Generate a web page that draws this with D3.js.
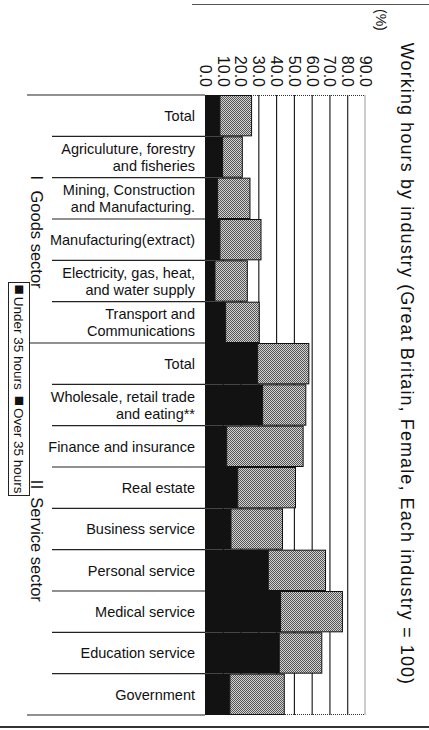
<!DOCTYPE html>
<html>
<head>
<meta charset="utf-8">
<script src="https://cdn.jsdelivr.net/npm/d3@7"></script>
<style>
  body { margin: 0; background: #fff; }
  svg { display: block; font-family: "Liberation Sans", Arial, Helvetica, sans-serif; }
</style>
</head>
<body>
<div id="chart"></div>
<script>
const W = 429;
const H = 730;
const PLOT = { LEFT: 205, RIGHT: 365, TOP: 95, BOTTOM: 715 };

// industries, top to bottom (line breaks as "\n")
const categories = [
  "Total",
  "Agriculuture, forestry\nand fisheries",
  "Mining, Construction\nand Manufacturing.",
  "Manufacturing(extract)",
  "Electricity, gas, heat,\nand water supply",
  "Transport and\nCommunications",
  "Total",
  "Wholesale, retail trade\nand eating**",
  "Finance and insurance",
  "Real estate",
  "Business service",
  "Personal service",
  "Medical service",
  "Education service",
  "Government",
];
const under35 = [8.4, 9.9, 7.1, 8.4, 5.6, 11.6, 29.6, 32.4, 12.2, 18.4, 14.6, 35.6, 42.5, 41.8, 14.0];
const over35 = [17.8, 11.1, 18.2, 23.1, 18.2, 18.9, 28.8, 24.3, 43.0, 32.5, 29.0, 32.2, 34.8, 23.9, 30.6];
const tickValues = [0, 10, 20, 30, 40, 50, 60, 70, 80, 90];
const sectorNames = ["Ⅰ Goods sector", "Ⅱ Service sector"];
const sectorSizes = [6, 9];
const legendItems = ["Under 35 hours", "Over 35 hours"];
const title = "Working hours by industry (Great Britain, Female, Each industry = 100)";

const rows = categories.map((c, i) => ({ i: i, label: c, under: under35[i], over: over35[i] }));

const svg = d3
  .select("#chart")
  .append("svg")
  .attr("width", W)
  .attr("height", H);

// halftone look for the over-35 bars
const defs = svg.append("defs");
const pat = defs
  .append("pattern")
  .attr("id", "dots")
  .attr("patternUnits", "userSpaceOnUse")
  .attr("width", 2)
  .attr("height", 2);
pat.append("rect").attr("width", 2).attr("height", 2).attr("fill", "#d2d2d2");
pat.append("rect").attr("x", 0).attr("y", 0).attr("width", 1).attr("height", 1).attr("fill", "#565656");
pat.append("rect").attr("x", 1).attr("y", 1).attr("width", 1).attr("height", 1).attr("fill", "#565656");

const x = d3.scaleLinear().domain([0, 90]).range([PLOT.LEFT, PLOT.RIGHT]);
const y = d3
  .scaleBand()
  .domain(rows.map((d) => d.i))
  .range([PLOT.TOP, PLOT.BOTTOM])
  .padding(0);

// page frame lines
svg.append("line").attr("x1", 192).attr("x2", W).attr("y1", 4.5).attr("y2", 4.5)
  .attr("stroke", "#555").attr("stroke-width", 1.2);
svg.append("line").attr("x1", 0).attr("x2", W).attr("y1", 727).attr("y2", 727)
  .attr("stroke", "#333").attr("stroke-width", 2);

// grid lines
const gridGroup = svg
  .append("g")
  .attr("transform", `translate(0, ${PLOT.TOP})`)
  .call(
    d3.axisBottom(x)
      .tickValues(tickValues.filter((d) => d > 0 && d < 90))
      .tickSize(PLOT.BOTTOM - PLOT.TOP)
      .tickFormat("")
  );
gridGroup.select(".domain").remove();
gridGroup.selectAll("line").attr("stroke", "#111").attr("stroke-width", 1.1);

// dotted border of the plot
svg.append("path")
  .attr("d", `M${x(0)},${PLOT.TOP + 0.5}H${x(90)}V${PLOT.BOTTOM - 0.5}H${x(0)}`)
  .attr("fill", "none")
  .attr("stroke", "#333")
  .attr("stroke-width", 1)
  .attr("stroke-dasharray", "1,1");

// bars: under 35 hours (black) then over 35 hours (halftone) stacked
svg.append("g")
  .selectAll("rect")
  .data(rows)
  .enter()
  .append("rect")
  .attr("x", x(0))
  .attr("y", (d) => y(d.i))
  .attr("width", (d) => x(d.under) - x(0))
  .attr("height", y.bandwidth())
  .attr("fill", "#121212");

svg.append("g")
  .selectAll("rect")
  .data(rows)
  .enter()
  .append("rect")
  .attr("x", (d) => x(d.under))
  .attr("y", (d) => y(d.i) + 0.5)
  .attr("width", (d) => x(d.under + d.over) - x(d.under))
  .attr("height", y.bandwidth() - 1)
  .attr("fill", "url(#dots)")
  .attr("stroke", "#111")
  .attr("stroke-width", 1);

// tick labels, rotated like the rest of the page
const axisGroup = svg
  .append("g")
  .attr("transform", `translate(0, ${PLOT.TOP})`)
  .call(d3.axisTop(x).tickValues(tickValues).tickFormat(d3.format(".1f")).tickSize(0));
axisGroup.select(".domain").remove();
axisGroup
  .selectAll("text")
  .attr("transform", "rotate(90)")
  .attr("text-anchor", "end")
  .attr("x", -8)
  .attr("y", 0)
  .attr("dy", "0.35em")
  .attr("font-size", "16px")
  .attr("font-family", "'Liberation Sans', Arial, sans-serif")
  .attr("fill", "#111");

svg.append("text")
  .attr("transform", `translate(376, 9) rotate(90)`)
  .attr("font-size", "14px")
  .attr("fill", "#111")
  .text("(%)");

// category labels
const labels = svg.append("g")
  .selectAll("text")
  .data(rows)
  .enter()
  .append("text")
  .attr("text-anchor", "end")
  .attr("font-size", "14.5px")
  .attr("fill", "#111");
labels.each(function (d) {
  const lines = d.label.split("\n");
  const cy = y(d.i) + y.bandwidth() / 2;
  const lh = 17;
  lines.forEach((t, k) => {
    d3.select(this)
      .append("tspan")
      .attr("x", 195)
      .attr("y", cy + (k - (lines.length - 1) / 2) * lh)
      .attr("dy", "0.36em")
      .text(t);
  });
});

// separators between rows; sector edges reach further left
const sectorEdges = [0];
sectorSizes.forEach((s, k) => sectorEdges.push(sectorEdges[k] + s));
const boundaries = d3.range(categories.length + 1);
svg.append("g")
  .selectAll("line")
  .data(boundaries)
  .enter()
  .append("line")
  .attr("x1", (b) => (sectorEdges.includes(b) ? 27 : 52))
  .attr("x2", PLOT.LEFT)
  .attr("y1", (b) => (b < categories.length ? y(b) : PLOT.BOTTOM))
  .attr("y2", (b) => (b < categories.length ? y(b) : PLOT.BOTTOM))
  .attr("stroke", "#222")
  .attr("stroke-width", 1.2);

// sector names
svg.append("g")
  .selectAll("text")
  .data(sectorNames)
  .enter()
  .append("text")
  .attr("transform", (d, k) => {
    const top = y(sectorEdges[k]);
    const bottom = sectorEdges[k + 1] < categories.length ? y(sectorEdges[k + 1]) : PLOT.BOTTOM;
    return `translate(37, ${(top + bottom) / 2 + 10}) rotate(90)`;
  })
  .attr("text-anchor", "middle")
  .attr("dy", "0.35em")
  .attr("font-size", "16.5px")
  .attr("font-family", "'Liberation Sans', 'Noto Sans CJK JP', sans-serif")
  .attr("fill", "#111")
  .text((d) => d);

// legend box
svg.append("rect")
  .attr("x", 8.5)
  .attr("y", 282.5)
  .attr("width", 21)
  .attr("height", 213)
  .attr("fill", "#fff")
  .attr("stroke", "#222")
  .attr("stroke-width", 1);
const legendText = svg.append("text")
  .attr("transform", "translate(19, 389) rotate(90)")
  .attr("text-anchor", "middle")
  .attr("dy", "0.35em")
  .attr("font-size", "13.5px")
  .attr("fill", "#111");
legendItems.forEach((t, k) => {
  legendText.append("tspan")
    .attr("font-size", "17px")
    .attr("dx", k === 0 ? 0 : 6)
    .text("■");
  legendText.append("tspan")
    .attr("dx", 2)
    .text(t);
});

// title
svg.append("text")
  .attr("transform", "translate(407, 364) rotate(90)")
  .attr("text-anchor", "middle")
  .attr("dy", "0.35em")
  .attr("font-size", "18px")
  .attr("letter-spacing", "1.1px")
  .attr("fill", "#111")
  .text(title);
</script>
</body>
</html>
